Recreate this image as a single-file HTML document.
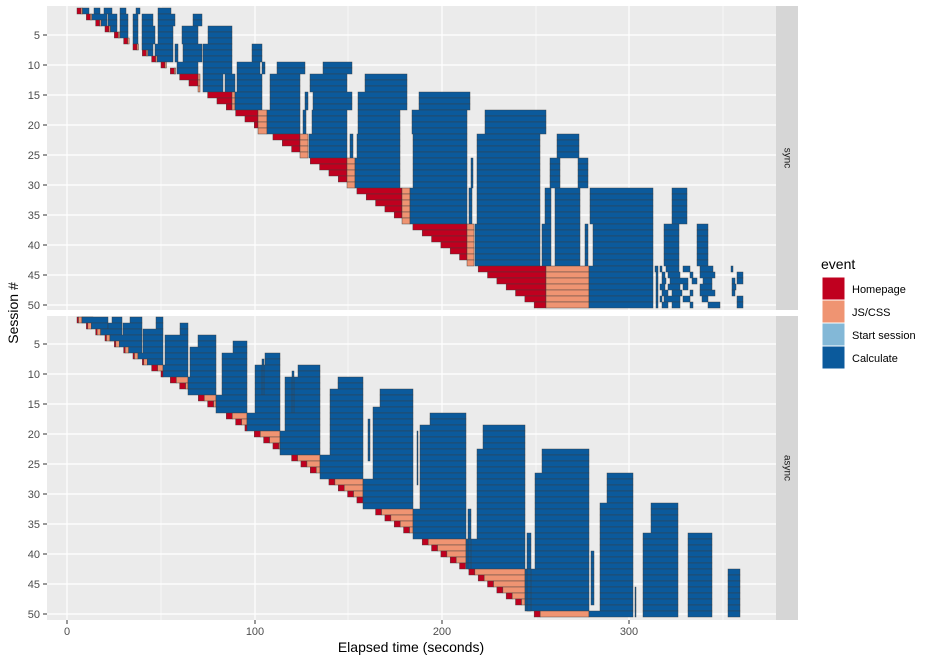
<!DOCTYPE html>
<html><head><meta charset="utf-8"><style>
html,body{margin:0;padding:0;background:#fff;}
svg text{font-family:"Liberation Sans",sans-serif;}
</style></head><body>
<svg id="c" width="935" height="661" xmlns="http://www.w3.org/2000/svg">
<rect width="935" height="661" fill="#fff"/>
<g id="bg"></g>
<g id="data"></g>
<g id="fg"></g>
</svg>
<script>
const NS="http://www.w3.org/2000/svg";
function el(p,t,a,txt){const e=document.createElementNS(NS,t);for(const k in a)e.setAttribute(k,a[k]);if(txt!==undefined)e.textContent=txt;document.getElementById(p).appendChild(e);return e;}
const RED="#C0001F",OR="#EF9472",LB="#83B8D7",BL="#0B5A9C";
const PL=47,PR=776;
const panels=[{top:6,bot:310,rt:s=>6*s+2,cy:s=>6*s+5,lab:"sync"},{top:316,bot:620,rt:s=>311+6*s,cy:s=>314+6*s,lab:"async"}];
const majX=[67,255,442,629],minX=[161,348,536,723];
panels.forEach(p=>{
  el("bg","rect",{x:PL,y:p.top,width:PR-PL,height:p.bot-p.top,fill:"#EBEBEB"});
  minX.forEach(x=>el("bg","line",{x1:x,x2:x,y1:p.top,y2:p.bot,stroke:"#fff","stroke-width":0.6}));
  majX.forEach(x=>el("bg","line",{x1:x,x2:x,y1:p.top,y2:p.bot,stroke:"#fff","stroke-width":1.2}));
  for(let s=5;s<=50;s+=5){const y=p.cy(s);
    el("bg","line",{x1:PL,x2:PR,y1:y,y2:y,stroke:"#fff","stroke-width":1.2});
    el("fg","line",{x1:43,x2:47,y1:y,y2:y,stroke:"#333","stroke-width":1});
    el("fg","text",{x:40,y:y+4,"text-anchor":"end","font-size":"11",fill:"#4d4d4d"},String(s));}
  el("fg","rect",{x:776,y:p.top,width:22,height:p.bot-p.top,fill:"#D6D6D6"});
  const my=(p.top+p.bot)/2;
  el("fg","text",{x:787,y:my,"text-anchor":"middle","font-size":"10",fill:"#1a1a1a",transform:`rotate(90 787 ${my})`,"dominant-baseline":"middle"},p.lab);
});
majX.forEach((x,i)=>{el("fg","line",{x1:x,x2:x,y1:620,y2:624,stroke:"#333"});
  el("fg","text",{x:x,y:635,"text-anchor":"middle","font-size":"11",fill:"#4d4d4d"},String(i*100));});
el("fg","text",{x:411,y:652,"text-anchor":"middle","font-size":"14",fill:"#000"},"Elapsed time (seconds)");
el("fg","text",{x:18,y:313,"text-anchor":"middle","font-size":"14",fill:"#000",transform:"rotate(-90 18 313)"},"Session #");
el("fg","text",{x:821,y:269,"font-size":"14",fill:"#000"},"event");
[[RED,"Homepage"],[OR,"JS/CSS"],[LB,"Start session"],[BL,"Calculate"]].forEach((d,i)=>{
  el("fg","rect",{x:822,y:277+23*i,width:23,height:23,fill:d[0],stroke:"#fff","stroke-width":1});
  el("fg","text",{x:852,y:293+23*i,"font-size":"11",fill:"#000"},d[1]);});

const st=s=>77+9.33*(s-1);
function bar(p,s,x1,x2,c){if(x2-x1<0.5)return;el("data","rect",{x:x1,y:p.rt(s),width:x2-x1,height:6,fill:c,stroke:"#3c3c3c","stroke-width":0.5,"stroke-opacity":0.85});}
// SYNC
const P0=panels[0];
const sg=[[12,14,198,200],[15,17,232,235],[18,21,258,267],[22,25,300,308],[26,30,347,355],[31,36,402,410],[37,43,467,474],[44,50,546,589]];
function sEnds(s){for(const g of sg)if(s>=g[0]&&s<=g[1])return[g[2],g[3]];return[st(s)+4,st(s)+5.5];}
const bands=[
[1,1,[[80,89],[94,100],[104,112],[120,126],[136,140],[158,171]]],
[2,3,[[90,107],[108,117],[120,128],[133,138],[142,153],[158,175],[193,202]]],
[4,6,[[108,117],[120,128],[133,138],[142,155],[158,173],[182,198],[208,232]]],
[7,9,[[142,153],[155,173],[175,178],[183,202],[203,232],[252,262]]],
[10,11,[[177,198],[203,232],[237,260],[262,265],[277,305],[323,352]]],
[12,14,[[203,223],[225,235],[237,262],[270,300],[310,347],[365,407]]],
[15,17,[[235,262],[270,300],[305,308],[313,352],[358,407],[419,470]]],
[18,21,[[267,300],[303,306],[312,347],[358,400],[412,467],[485,546]]],
[22,25,[[309,347],[350,353],[357,400],[413,467],[477,540],[557,579]]],
[26,30,[[355,400],[413,467],[471,473],[477,540],[550,560],[578,588]]],
[31,36,[[410,467],[469,472],[477,540],[545,551],[555,580],[590,653],[672,687]]],
[37,43,[[475,540],[542,551],[555,580],[585,588],[593,653],[664,679],[697,708]]],
[44,50,[[589,653]]]];
const scat={44:[[655,658],[660,662],[666,679],[683,690],[700,713],[731,733]],
45:[[656,658],[662,665],[668,680],[690,693],[700,715],[737,743]],
46:[[656,658],[662,666],[670,688],[692,697],[703,712],[732,735],[737,743]],
47:[[656,658],[660,665],[668,680],[683,688],[700,712],[732,736]],
48:[[656,658],[662,668],[672,682],[690,693],[700,715],[732,735]],
49:[[656,658],[660,662],[664,680],[683,690],[702,708],[737,743]],
50:[[656,658],[662,668],[672,680],[690,693],[708,720],[737,743]]};
for(let s=1;s<=50;s++){const[re,oe]=sEnds(s);const x0=st(s);
  bar(P0,s,x0,re,RED);bar(P0,s,re,oe,OR);
  for(const b of bands)if(s>=b[0]&&s<=b[1])for(const sg2 of b[2]){const a=Math.max(sg2[0],oe);if(a<sg2[1])bar(P0,s,a,sg2[1],BL);}
  if(scat[s])scat[s].forEach(q=>bar(P0,s,q[0],q[1],BL));}
// ASYNC
const P1=panels[1];
const ag=[[9,10,163],[11,13,188],[14,16,216],[17,19,247],[20,23,280],[24,27,320],[28,32,363],[33,37,413],[38,42,466],[43,49,525],[50,50,589]];
function aEnd(s){for(const g of ag)if(s>=g[0]&&s<=g[1])return g[2];return st(s)+5;}
// x1,x2,sTop,sBot,x1top,topRows
const cols=[[78,93,1,1,78,0],[93,108,1,3,93,0],[108,122,1,4,112,1],[123,142,1,6,130,1],[143,163,1,8,156,2],
[165,188,2,10,180,2],[190,216,4,13,198,2],[222,247,5,16,233,2],[255,280,7,19,265,2],[285,320,9,23,298,2],
[330,363,11,27,338,2],[373,413,13,32,380,3],[420,466,17,37,430,2],[477,525,19,42,483,4],[535,589,23,50,542,4],
[600,633,27,50,607,5],[643,678,32,50,651,5],[688,712,37,50,688,0],[728,740,43,50,728,0]];
const thin=[[468,471,33,44],[527,531,37,50],[591,594,40,48],[262,264,8,13],[292,294,10,16],[368,370,18,24],[417,418,20,28],[635,636,46,50]];
for(let s=1;s<=50;s++){const x0=st(s),oe=aEnd(s);const re=Math.min(x0+(s>=9?6:1.5),oe);
  bar(P1,s,x0,re,RED);bar(P1,s,re,oe,OR);
  for(const c of cols){if(s<c[2]||s>c[3])continue;let a=(s<c[2]+c[5])?c[4]:c[0];
    if(oe>=c[0]-14)a=oe;
    if(a<c[1]-0.5)bar(P1,s,a,c[1],BL);}
  for(const t of thin){if(s>=t[2]&&s<=t[3]&&oe<t[0])bar(P1,s,t[0],t[1],BL);}}
</script>
</body></html>
